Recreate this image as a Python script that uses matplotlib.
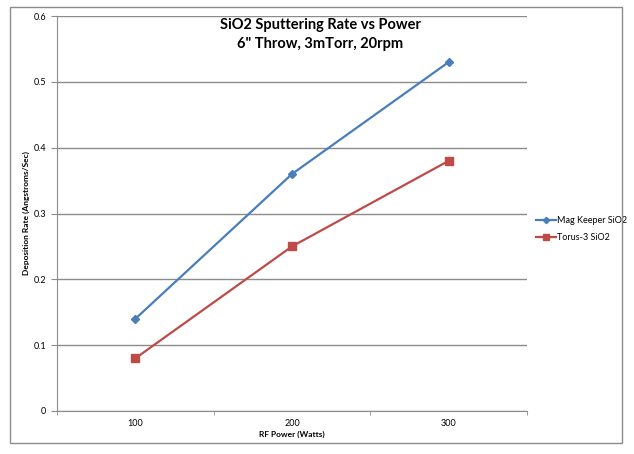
import matplotlib.pyplot as plt
from matplotlib.patches import Rectangle

power = ['100', '200', '300']
mag_keeper = [0.14, 0.36, 0.53]
torus3 = [0.08, 0.25, 0.38]
yticks = [0, 0.1, 0.2, 0.3, 0.4, 0.5, 0.6]

plt.rcParams['font.family'] = ['Lato', 'DejaVu Sans']

fig = plt.figure(figsize=(6.34, 4.54), dpi=100)
W, H = 634, 454
ax = fig.add_axes([57 / W, 1 - 411 / H, (527 - 57) / W, (411 - 16) / H])

# outer chart border
fig.patches.append(Rectangle((10 / W, 1 - 443 / H), 612 / W, 436 / H,
                             transform=fig.transFigure, fill=False,
                             edgecolor='#8c8c8c', linewidth=1))

x = range(len(power))
ax.plot(x, mag_keeper, color='#4A7EBB', linewidth=1.6, marker='D',
        markersize=4, label='Mag Keeper SiO2')
ax.plot(x, torus3, color='#BE4B48', linewidth=1.6, marker='s',
        markersize=6, label='Torus-3 SiO2')

ax.set_xlim(-0.5, 2.5)
ax.set_ylim(0, 0.6)
ax.set_yticks(yticks)
ax.set_yticklabels(['0', '0.1', '0.2', '0.3', '0.4', '0.5', '0.6'])
ax.set_xticks(x)
ax.set_xticklabels(power)
ax.set_xticks([-0.5, 0.5, 1.5, 2.5], minor=True)
ax.tick_params(axis='x', which='major', length=0, labelsize=6.5, pad=6)
ax.tick_params(axis='x', which='minor', length=3, color='#8c8c8c')
ax.tick_params(axis='y', length=4, color='#8c8c8c', labelsize=6.5, pad=4)

ax.grid(axis='y', color='#8c8c8c', linewidth=1)
ax.set_axisbelow(True)
for side in ['top', 'right']:
    ax.spines[side].set_visible(False)
for side in ['left', 'bottom']:
    ax.spines[side].set_color('#8c8c8c')

ax.set_xlabel('RF Power (Watts)', fontsize=6, fontweight='bold', labelpad=2)
ax.set_ylabel('Deposition Rate (Angstroms/Sec)', fontsize=6,
              fontweight='bold', labelpad=2)

ax.text(0.56, 0.995, 'SiO2 Sputtering Rate vs Power\n6" Throw, 3mTorr, 20rpm',
        transform=ax.transAxes, ha='center', va='top', fontsize=10.5,
        fontweight='bold', linespacing=1.45)

ax.legend(loc='center left', bbox_to_anchor=(1.0, 0.46), frameon=False,
          fontsize=6.5, handlelength=2.2, handletextpad=0.1,
          labelspacing=0.9, borderaxespad=0.6, markerscale=0.8)

fig.savefig('out.png', dpi=100)
